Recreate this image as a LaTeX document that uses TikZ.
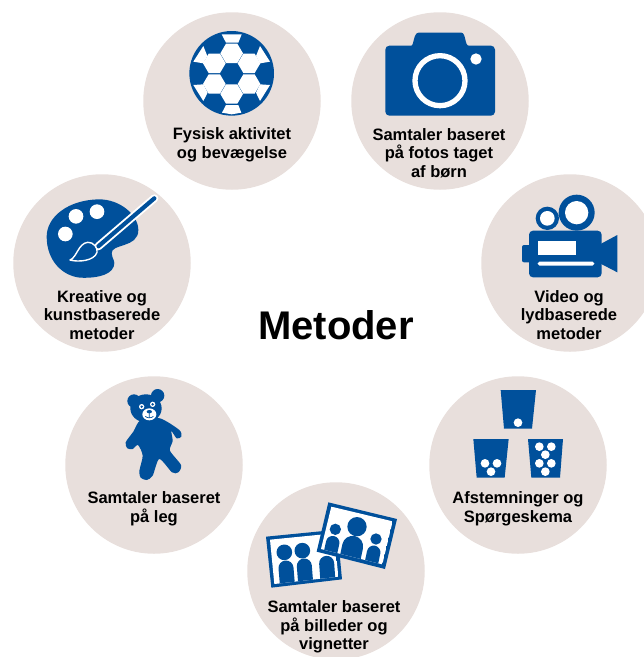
\documentclass[tikz,border=0pt]{standalone}
\usepackage{fontspec}
\setmainfont{Liberation Sans}
\definecolor{rose}{HTML}{E8DFDC}
\definecolor{mblue}{HTML}{00509B}
\tikzset{
  disc/.style={circle,fill=rose,minimum size=177.5pt,inner sep=0pt},
  lbl/.style={align=center,font=\fontsize{16.5}{18.6}\selectfont\bfseries,text=black,inner sep=0pt},
  zoomed/.style={shift={(#1)},x=0.33333pt,y=-0.33333pt},
  ico/.style={fill=mblue},
  wht/.style={fill=white},
}
\begin{document}
\begin{tikzpicture}[x=1pt,y=-1pt]
\useasboundingbox (0,0) rectangle (644,657);
\node[disc] (d1) at (232,101) {};
\node[disc] (d2) at (440,101) {};
\node[disc] (d3) at (570,263) {};
\node[disc] (d4) at (518,465) {};
\node[disc] (d5) at (336,571) {};
\node[disc] (d6) at (154,465) {};
\node[disc] (d7) at (102,263) {};
\node[inner sep=0pt,font=\fontsize{40}{44}\selectfont\bfseries] (title) at (336,325) {Metoder};
\node[lbl] (t1) at (232,145) {Fysisk aktivitet\\og bevægelse};
\node[lbl] (t2) at (439,153) {Samtaler baseret\\på fotos taget\\af børn};
\node[lbl] (t3) at (569,315) {Video og\\lydbaserede\\metoder};
\node[lbl] (t4) at (518,509) {Afstemninger og\\Spørgeskema};
\node[lbl] (t5) at (334,627) {Samtaler baseret\\på billeder og\\vignetter};
\node[lbl] (t6) at (154,509) {Samtaler baseret\\på leg};
\node[lbl] (t7) at (102,315) {Kreative og\\kunstbaserede\\metoder};

% football
\begin{scope}[zoomed={170,20}]
  \fill[ico] (185,160) circle (127);
  \foreach \dx/\dy in {0/-60,-52/-30,52/-30,-52/32,52/32,0/62}{
    \fill[wht] ({185+\dx-34},{160+\dy}) -- ({185+\dx-17},{160+\dy-29}) -- ({185+\dx+17},{160+\dy-29})
      -- ({185+\dx+34},{160+\dy}) -- ({185+\dx+17},{160+\dy+29}) -- ({185+\dx-17},{160+\dy+29}) -- cycle;
  }
  \fill[wht] (155,43) -- (215,43) -- (205,68) -- (168,68) -- cycle;
  \fill[wht] (168,255) -- (205,255) -- (214,278) -- (185,283) -- (156,278) -- cycle;
  \fill[wht] (270,78) -- (300,125) -- (270,130) -- (258,108) -- cycle;
  \fill[wht] (100,78) -- (70,125) -- (100,130) -- (112,108) -- cycle;
  \fill[wht] (70,195) -- (100,193) -- (113,218) -- (100,243) -- cycle;
  \fill[wht] (300,195) -- (270,193) -- (258,218) -- (270,243) -- cycle;
\end{scope}

% camera
\begin{scope}[zoomed={370,20}]
  \fill[ico,rounded corners=4pt] (46,77) -- (112,77) .. controls (132,77) and (130,38) .. (158,38) -- (262,38) .. controls (288,38) and (284,77) .. (308,77) -- (375,77) -- (375,287) -- (46,287) -- cycle;
  \fill[wht,even odd rule] (210,182) circle (83) (210,182) circle (67);
  \fill[wht] (318,117) circle (17);
\end{scope}

% video camera
\begin{scope}[zoomed={510,185}]
  \fill[ico,rounded corners=4pt] (57,137) rectangle (275,277);
  \fill[ico,rounded corners=2pt] (36,180) rectangle (70,232);
  \fill[ico] (270,178) -- (322,150) -- (322,262) -- (270,235) -- cycle;
  \fill[wht] (83,168) rectangle (197,210);
  \fill[wht,rounded corners=1.9pt] (83,230) rectangle (253,242);
  \fill[ico] (112,100) circle (35) (200,83) circle (54);
  \fill[wht] (112,100) circle (22) (200,83) circle (35);
\end{scope}

% cups
\begin{scope}[zoomed={460,380}]
  \fill[ico] (122,30) -- (228,30) -- (216,146) -- (132,146) -- cycle;
  \fill[ico] (40,177) -- (146,177) -- (134,293) -- (50,293) -- cycle;
  \fill[ico] (204,177) -- (309,177) -- (300,293) -- (214,293) -- cycle;
  \foreach \bx/\by in {174/128,75/250,111/250,93/275,238/200,274/200,256/224,238/250,274/250,256/275}
    \fill[wht] (\bx,\by) circle (13);
\end{scope}

% photos
\begin{scope}[zoomed={260,495}]
  \fill[ico] (18,125) -- (232,104) -- (246,253) -- (34,278) -- cycle;
  \begin{scope}
    \clip (30,134) -- (222,115) -- (235,245) -- (43,267) -- cycle;
    \fill[wht] (30,134) -- (222,115) -- (235,245) -- (43,267) -- cycle;
    \fill[ico] (73,172) circle (23.5) (127,167) circle (23.5);
    \draw[mblue,line width=15pt,line cap=round] (78,219) -- (84,290);
    \draw[mblue,line width=15pt,line cap=round] (133,213) -- (139,290);
    \draw[mblue,line width=15pt,line cap=round] (200,205) -- (206,290);
  \end{scope}
  \fill[ico] (205,22) -- (411,72) -- (375,222) -- (170,170) -- cycle;
  \begin{scope}
    \clip (214,35) -- (398,79) -- (367,208) -- (183,162) -- cycle;
    \fill[wht] (214,35) -- (398,79) -- (367,208) -- (183,162) -- cycle;
    \fill[ico] (226,103) circle (17) (291,95) circle (29) (348,132) circle (17);
    \draw[mblue,line width=13.5pt,line cap=round] (218,143) -- (208,190);
    \draw[mblue,line width=21pt,line cap=round] (278,154) -- (265,215);
    \draw[mblue,line width=13.5pt,line cap=round] (341,172) -- (331,220);
  \end{scope}
\end{scope}

% teddy
\begin{scope}[zoomed={110,385}]
  \fill[ico] (72,48) circle (20) (143,32) circle (20);
  \fill[ico] (108,70) ellipse (47 and 42);
  \fill[ico] plot[smooth cycle,tension=0.45] coordinates {
    (92,105) (70,140) (47,172) (52,190) (68,192) (84,180) (98,212) (88,258) (92,278) (110,285) (128,272)
    (148,222) (186,262) (205,262) (213,240) (180,197) (188,168) (184,138) (200,160) (214,155) (208,135) (150,100) };
  \fill[wht] (118,88) ellipse (21 and 18);
  \fill[wht] (95,65) circle (8) (128,58) circle (8);
  \fill[ico] (95,65) circle (4) (128,58) circle (4);
  \fill[ico] (118,80) ellipse (8 and 5);
  \draw[mblue,line width=0.7pt] (118,82) -- (118,96) (106,94) .. controls (112,100) and (124,100) .. (130,94);
\end{scope}

% palette
\begin{scope}[zoomed={35,185}]
  \fill[ico] (35,155) .. controls (35,95) and (100,45) .. (190,43)
     .. controls (255,42) and (310,90) .. (310,135)
     .. controls (310,190) and (228,175) .. (230,205)
     .. controls (232,225) and (242,225) .. (236,245)
     .. controls (225,275) and (170,280) .. (135,278)
     .. controls (80,272) and (35,225) .. (35,155) -- cycle;
  \fill[wht] (123,94) circle (22) (186,80) circle (22) (91,147) circle (22);
  \draw[white,line width=8pt,line cap=round] (190,184) -- (358,40);
  \draw[mblue,line width=4.2pt,line cap=round] (190,184) -- (358,40);
  \draw[white,line width=1.4pt,fill=mblue,line join=round] (105,225)
     .. controls (125,218) and (130,175) .. (158,172)
     .. controls (175,170) and (190,190) .. (186,202)
     .. controls (178,228) and (130,232) .. (105,225) -- cycle;
\end{scope}
\end{tikzpicture}
\end{document}
